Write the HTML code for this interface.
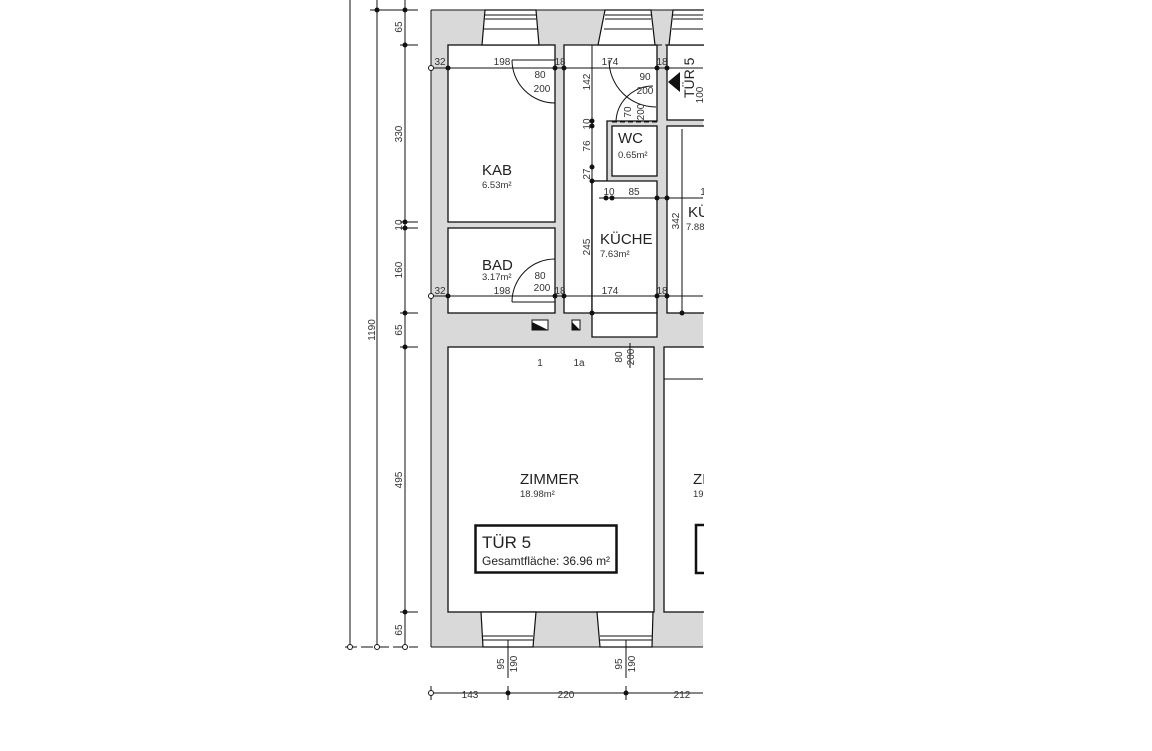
<!DOCTYPE html>
<html><head><style>
html,body{margin:0;padding:0;background:#fff;}
svg{display:block;font-family:"Liberation Sans",sans-serif;}
.d{font-size:10px;fill:#333;}
.l{font-size:15px;fill:#222;}
.a{font-size:9.5px;fill:#333;}
</style></head><body>
<svg width="1152" height="751" viewBox="0 0 1152 751" xmlns="http://www.w3.org/2000/svg">
<defs><clipPath id="c"><rect x="0" y="0" width="704" height="751"/></clipPath></defs>
<rect width="1152" height="751" fill="#fff"/>
<g clip-path="url(#c)">
<rect x="431" y="10" width="272" height="637" fill="#d9d9d9"/>
<g fill="#fff" stroke="#111" stroke-width="1.3">
<rect x="448" y="45" width="107" height="177"/>
<rect x="448" y="228" width="107" height="85"/>
<path d="M564 45 H657 V121 H607 V181 H592 V313 H564 Z"/>
<rect x="612" y="126" width="45" height="50"/>
<path d="M592 181 H657 V313 H592 Z"/>
<path d="M592 313 H657 V337 H592 Z"/>
<rect x="667" y="45" width="40" height="75"/>
<rect x="667" y="126" width="40" height="187"/>
<rect x="448" y="347" width="206" height="265"/>
<rect x="664" y="347" width="45" height="265"/>
</g>
<g fill="#fff" stroke="#111" stroke-width="1.2">
<path d="M485 10 L536 10 L539 45 L482 45 Z"/>
<path d="M605 10 L651 10 L655 45 L598 45 Z"/>
<path d="M673 10 L710 10 L710 45 L669 45 Z"/>
<path d="M481 612 L536 612 L533 647 L483 647 Z"/>
<path d="M597 612 L653 612 L652 647 L600 647 Z"/>
</g>
<g stroke="#111" stroke-width="1" fill="none">
<line x1="485" y1="15" x2="536" y2="15"/><line x1="485" y1="19" x2="536" y2="19"/><line x1="484" y1="29" x2="537" y2="29"/>
<line x1="605" y1="15" x2="651" y2="15"/><line x1="605" y1="19" x2="651" y2="19"/><line x1="604" y1="29" x2="652" y2="29"/>
<line x1="673" y1="15" x2="703" y2="15"/><line x1="673" y1="19" x2="703" y2="19"/><line x1="672" y1="29" x2="703" y2="29"/>
<line x1="483" y1="636" x2="533" y2="636"/><line x1="483" y1="640" x2="533" y2="640"/>
<line x1="600" y1="636" x2="652" y2="636"/><line x1="600" y1="640" x2="652" y2="640"/>
<line x1="431" y1="10" x2="431" y2="647"/><line x1="431" y1="647" x2="703" y2="647"/><line x1="431" y1="10" x2="703" y2="10"/>
</g>
<g stroke="#111" stroke-width="1" stroke-dasharray="5,3" fill="none">
<line x1="448" y1="612" x2="654" y2="612"/>
<line x1="664" y1="612" x2="703" y2="612"/>
<line x1="555" y1="70" x2="555" y2="103"/><line x1="564" y1="70" x2="564" y2="103"/>
<line x1="555" y1="260" x2="555" y2="297"/><line x1="564" y1="260" x2="564" y2="297"/>
<line x1="657" y1="67" x2="657" y2="107"/><line x1="667" y1="67" x2="667" y2="107"/>
<line x1="612" y1="122" x2="657" y2="122"/>
<line x1="592" y1="313" x2="657" y2="313"/><line x1="592" y1="337" x2="657" y2="337"/>
<line x1="603" y1="347" x2="645" y2="347"/>
<line x1="657" y1="45" x2="703" y2="45"/>
</g>
<g stroke="#111" stroke-width="1" fill="none">
<path d="M512 60 H555 M512 60 A43 43 0 0 0 555 103"/>
<path d="M512 302 H555 M512 302 A43 43 0 0 1 555 259"/>
<path d="M609 60 A47 47 0 0 0 656 107"/>
<path d="M616 121 A37 37 0 0 1 653 86"/>
</g>
<path d="M668 82 L680 72 L680 92 Z" fill="#111"/>
<g stroke="#111" stroke-width="1" fill="none">
<line x1="431" y1="68" x2="703" y2="68"/>
<line x1="431" y1="296" x2="703" y2="296"/>
<line x1="592" y1="45" x2="592" y2="313"/>
<line x1="599" y1="198" x2="703" y2="198"/>
<line x1="682" y1="129" x2="682" y2="313"/>
<line x1="664" y1="379" x2="703" y2="379"/>
<line x1="630" y1="343" x2="630" y2="368"/>
<line x1="508" y1="640" x2="508" y2="678"/>
<line x1="626" y1="640" x2="626" y2="678"/>
</g>
<g fill="#111">
<circle cx="448" cy="68" r="2.5"/><circle cx="555" cy="68" r="2.5"/><circle cx="564" cy="68" r="2.5"/><circle cx="657" cy="68" r="2.5"/><circle cx="667" cy="68" r="2.5"/>
<circle cx="448" cy="296" r="2.5"/><circle cx="555" cy="296" r="2.5"/><circle cx="564" cy="296" r="2.5"/><circle cx="657" cy="296" r="2.5"/><circle cx="667" cy="296" r="2.5"/>
<circle cx="592" cy="121" r="2.5"/><circle cx="592" cy="126" r="2.5"/><circle cx="592" cy="167" r="2.5"/><circle cx="592" cy="181" r="2.5"/><circle cx="592" cy="313" r="2.5"/>
<circle cx="606" cy="198" r="2.5"/><circle cx="612" cy="198" r="2.5"/><circle cx="657" cy="198" r="2.5"/><circle cx="667" cy="198" r="2.5"/>
<circle cx="682" cy="313" r="2.5"/><circle cx="508" cy="693" r="2.5"/><circle cx="626" cy="693" r="2.5"/>
</g>
<rect x="532" y="320" width="16" height="10" fill="#fff" stroke="#111"/><path d="M532 322 L548 330 L532 330Z" fill="#111"/>
<rect x="572" y="320" width="8" height="10" fill="#fff" stroke="#111"/><path d="M572 322 L580 330 L572 330Z" fill="#111"/>
<g stroke="#111" stroke-width="1">
<line x1="350" y1="0" x2="350" y2="647"/><line x1="377" y1="0" x2="377" y2="647"/><line x1="405" y1="0" x2="405" y2="647"/>
<line x1="345" y1="647" x2="418" y2="647" stroke-dasharray="12,4"/>
<line x1="370" y1="10" x2="418" y2="10"/>
<line x1="400" y1="45" x2="418" y2="45"/><line x1="400" y1="222" x2="418" y2="222"/><line x1="400" y1="228" x2="418" y2="228"/>
<line x1="400" y1="313" x2="418" y2="313"/><line x1="400" y1="347" x2="418" y2="347"/><line x1="400" y1="612" x2="418" y2="612"/>
<line x1="431" y1="693" x2="703" y2="693"/>
<line x1="431" y1="686" x2="431" y2="700"/><line x1="508" y1="686" x2="508" y2="700"/><line x1="626" y1="686" x2="626" y2="700"/>
</g>
<g fill="#111"><circle cx="377" cy="10" r="2.5"/><circle cx="405" cy="10" r="2.5"/><circle cx="405" cy="45" r="2.5"/><circle cx="405" cy="222" r="2.5"/><circle cx="405" cy="228" r="2.5"/><circle cx="405" cy="313" r="2.5"/><circle cx="405" cy="347" r="2.5"/><circle cx="405" cy="612" r="2.5"/></g>
<g fill="#fff" stroke="#111"><circle cx="350" cy="647" r="2.5"/><circle cx="377" cy="647" r="2.5"/><circle cx="405" cy="647" r="2.5"/><circle cx="431" cy="693" r="2.5"/><circle cx="431" cy="68" r="2.5"/><circle cx="431" cy="296" r="2.5"/></g>
<g class="d" text-anchor="middle">
<text transform="translate(402,27) rotate(-90)">65</text>
<text transform="translate(402,134) rotate(-90)">330</text>
<text transform="translate(402,225) rotate(-90)">10</text>
<text transform="translate(402,270) rotate(-90)">160</text>
<text transform="translate(402,330) rotate(-90)">65</text>
<text transform="translate(402,480) rotate(-90)">495</text>
<text transform="translate(402,630) rotate(-90)">65</text>
<text transform="translate(375,330) rotate(-90)">1190</text>
<text transform="translate(590,82) rotate(-90)">142</text>
<text transform="translate(590,124) rotate(-90)">10</text>
<text transform="translate(590,146) rotate(-90)">76</text>
<text transform="translate(590,174) rotate(-90)">27</text>
<text transform="translate(590,247) rotate(-90)">245</text>
<text transform="translate(679,221) rotate(-90)">342</text>
<text transform="translate(703,95) rotate(-90)">100</text>
<text transform="translate(631,112) rotate(-90)">70</text>
<text transform="translate(644,112) rotate(-90)">200</text>
<text transform="translate(622,357) rotate(-90)">80</text>
<text transform="translate(634,357) rotate(-90)">200</text>
<text transform="translate(504,664) rotate(-90)">95</text>
<text transform="translate(517,664) rotate(-90)">190</text>
<text transform="translate(622,664) rotate(-90)">95</text>
<text transform="translate(635,664) rotate(-90)">190</text>
<text x="440" y="65">32</text><text x="502" y="65">198</text><text x="610" y="65">174</text><text x="662" y="65">18</text><text x="560" y="65">18</text>
<text x="540" y="78">80</text><text x="542" y="92">200</text>
<text x="645" y="80">90</text><text x="645" y="94">200</text>
<text x="440" y="294">32</text><text x="502" y="294">198</text><text x="610" y="294">174</text><text x="662" y="294">18</text><text x="560" y="294">18</text>
<text x="540" y="279">80</text><text x="542" y="291">200</text>
<text x="609" y="195">10</text><text x="634" y="195">85</text><text x="703" y="195">1</text>
<text x="540" y="366">1</text><text x="579" y="366">1a</text>
<text x="470" y="698">143</text><text x="566" y="698">220</text><text x="682" y="698">212</text>
</g>
<text transform="translate(694,98) rotate(-90)" style="font-size:14px" fill="#222">TÜR 5</text>
<g class="l">
<text x="482" y="175">KAB</text><text x="482" y="270">BAD</text>
<text x="618" y="143">WC</text><text x="600" y="244">KÜCHE</text><text x="688" y="217">KÜ</text>
<text x="520" y="484">ZIMMER</text><text x="693" y="484">ZI</text>
</g>
<g class="a">
<text x="482" y="188">6.53m²</text><text x="482" y="280">3.17m²</text>
<text x="618" y="158">0.65m²</text><text x="600" y="257">7.63m²</text><text x="686" y="230">7.88</text>
<text x="520" y="497">18.98m²</text><text x="693" y="497">19</text>
</g>
<rect x="475.5" y="525.5" width="141" height="47" fill="#fff" stroke="#111" stroke-width="2.5"/>
<text x="482" y="548" style="font-size:17px" fill="#222">TÜR 5</text>
<text x="482" y="565" style="font-size:12px" fill="#222">Gesamtfläche:   36.96 m²</text>
<path d="M710 525 H696 V573 H710" fill="#fff" stroke="#111" stroke-width="2.5"/>
</g>
</svg>
</body></html>
